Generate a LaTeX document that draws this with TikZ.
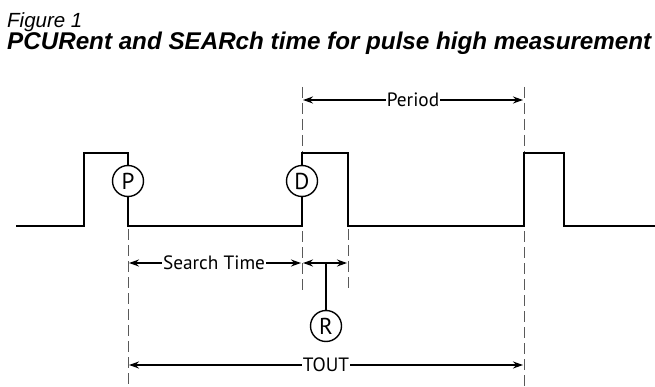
\documentclass[tikz,border=0pt]{standalone}
\usepackage{fontspec}
\setmainfont{PT Sans}
\newfontfamily\headfont{Liberation Sans}
\usetikzlibrary{arrows.meta}
\tikzset{
  wave/.style={line width=2.2pt, line join=miter},
  mark circ/.style={circle, draw, line width=1.4pt, fill=white, minimum size=31pt, inner sep=0pt, font=\fontsize{23}{23}\selectfont},
  guide/.style={gray!70!black, line width=0.8pt, dash pattern=on 11pt off 5pt},
  dim/.style={line width=1.5pt, -{Stealth[length=10pt, width=7pt]}},
  dimlabel/.style={fill=white, inner sep=1pt, font=\fontsize{19.3}{19.3}\selectfont},
}
\begin{document}
\begin{tikzpicture}[x=1pt, y=-1pt]
\useasboundingbox (0,0) rectangle (655,387);

% headings
\node[anchor=base west, inner sep=0pt, font=\headfont\fontsize{20.5}{20.5}\selectfont\itshape] (fig) at (7,28) {Figure 1};
\node[anchor=base west, inner sep=0pt, font=\headfont\fontsize{24.2}{24.2}\selectfont\bfseries\itshape] (cap) at (7,50) {PCURent and SEARch time for pulse high measurement};

% vertical reference lines
\draw[guide] (128,229) -- (128,387);
\draw[guide] (302,87) -- (302,292);
\draw[guide] (348,229) -- (348,292);
\draw[guide] (524.5,87) -- (524.5,387);

% markers on the edges
\node[mark circ] (P) at (128,181) {P};
\node[mark circ] (D) at (302,181) {D};
\node[mark circ] (R) at (326,326) {R};

% pulse train
\draw[wave] (16,226) -- (84,226) -- (84,153) -- (128,153) -- (P.north);
\draw[wave] (P.south) -- (128,226) -- (302,226) -- (D.south);
\draw[wave] (D.north) -- (302,153) -- (348,153) -- (348,226) -- (524,226)
  -- (524,153) -- (564,153) -- (564,226) -- (655,226);

% Period
\coordinate (perL) at (303,100);
\coordinate (perR) at (523,100);
\node[dimlabel] (per) at (413,100) {Period};
\draw[dim] (per) -- (perL);
\draw[dim] (per) -- (perR);

% Search Time
\coordinate (stL) at (129,263);
\coordinate (stR) at (301,263);
\node[dimlabel] (st) at (214,263) {Search Time};
\draw[dim] (st) -- (stL);
\draw[dim] (st) -- (stR);

% R interval
\coordinate (rm) at (326,263);
\coordinate (rL) at (303,263);
\coordinate (rR) at (347,263);
\draw[dim] (rm) -- (rL);
\draw[dim] (rm) -- (rR);
\draw[line width=1.5pt] (rm) -- (R.north);

% TOUT
\coordinate (toL) at (129,365);
\coordinate (toR) at (523,365);
\node[dimlabel] (to) at (326,365) {TOUT};
\draw[dim] (to) -- (toL);
\draw[dim] (to) -- (toR);
\end{tikzpicture}
\end{document}
